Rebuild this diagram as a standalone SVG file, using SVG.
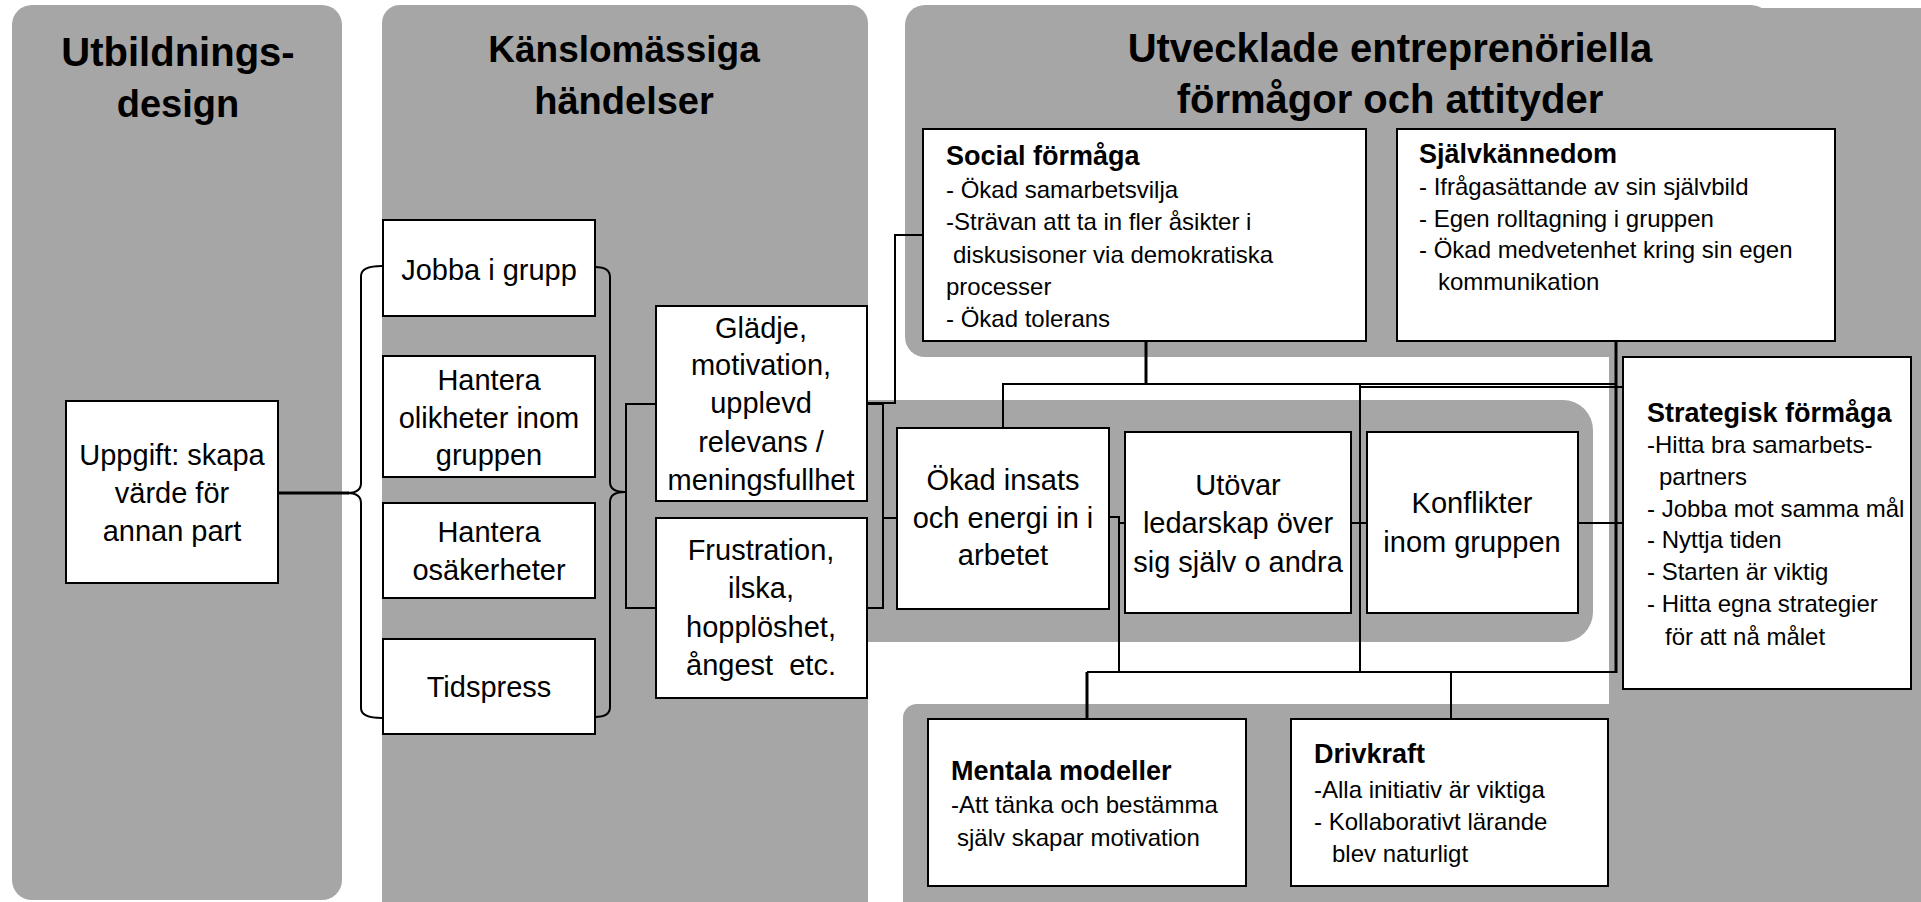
<svg xmlns="http://www.w3.org/2000/svg" width="1921" height="902" viewBox="0 0 1921 902">
<style>
.bg{fill:#a6a6a6}
.box{fill:#fff;stroke:#000;stroke-width:2}
.t{font-family:"Liberation Sans",Arial,sans-serif;font-size:29px;fill:#000;text-anchor:middle}
.h{font-family:"Liberation Sans",Arial,sans-serif;font-size:38px;font-weight:bold;fill:#000;text-anchor:middle}
.b{font-family:"Liberation Sans",Arial,sans-serif;font-size:24px;fill:#000}
.bh{font-family:"Liberation Sans",Arial,sans-serif;font-size:27px;font-weight:bold;fill:#000}
.ln{fill:none;stroke:#000;stroke-width:2}
.lt{fill:none;stroke:#000;stroke-width:3}
</style>
<rect width="1921" height="902" fill="#fff"/>
<g id="panels">
  <rect class="bg" x="12" y="5" width="330" height="895" rx="20"/>
  <rect class="bg" x="840" y="400" width="753" height="242" rx="30"/>
  <rect class="bg" x="382" y="5" width="486" height="920" rx="18"/>
  <rect class="bg" x="905" y="5" width="866" height="352" rx="20"/>
  <rect class="bg" x="1609" y="8" width="312" height="894"/>
  <rect class="bg" x="903" y="704" width="1040" height="240" rx="14"/>
</g>
<g id="headings">
  <text class="h" x="178" y="66" style="font-size:40px">Utbildnings-</text>
  <text class="h" x="178" y="117" style="font-size:38px">design</text>
  <text class="h" x="624" y="62" style="font-size:37px">Känslomässiga</text>
  <text class="h" x="624" y="114">händelser</text>
  <text class="h" x="1390" y="62" style="font-size:40px">Utvecklade entreprenöriella</text>
  <text class="h" x="1390" y="113" style="font-size:40px">förmågor och attityder</text>
</g>
<g id="connectors">
  <path class="lt" d="M278,493 H349"/>
  <path class="ln" d="M382,266 Q361,266 361,276 V483 Q361,493 347,493 Q361,493 361,503 V708 Q361,718 382,718"/>
  <path class="ln" d="M595,267 Q610,267 610,277 V482 Q610,492 625,492 Q610,492 610,502 V707 Q610,717 595,717"/>
  <path class="ln" d="M656,404 H626 V608 H656"/>
  <path class="ln" d="M867,404 H883 V608 H867 M883,518 H897"/>
  <path class="ln" d="M867,403 H895 V235 H923"/>
  <path class="lt" d="M1146,341 V384"/>
  <path class="ln" d="M1003,428 V384 H1616"/>
  <path class="ln" d="M1360,387 H1623"/>
  <path class="lt" d="M1616,341 V673"/>
  <path class="ln" d="M1087,672 H1616"/>
  <path class="lt" d="M1087,719 V672"/>
  <path class="ln" d="M1451,672 V719"/>
  <path class="ln" d="M1109,517 H1119 V672 M1119,523 H1125"/>
  <path class="ln" d="M1360,384 V672 M1351,523 H1367"/>
  <path class="ln" d="M1578,523 H1623"/>
</g>
<g id="uppgift">
  <rect class="box" x="66" y="401" width="212" height="182"/>
  <text class="t" x="172" y="465">Uppgift: skapa</text>
  <text class="t" x="172" y="503">värde för</text>
  <text class="t" x="172" y="541">annan part</text>
</g>
<g id="jobba">
  <rect class="box" x="383" y="220" width="212" height="96"/>
  <text class="t" x="489" y="280">Jobba i grupp</text>
</g>
<g id="olikheter">
  <rect class="box" x="383" y="356" width="212" height="121"/>
  <text class="t" x="489" y="390">Hantera</text>
  <text class="t" x="489" y="428">olikheter inom</text>
  <text class="t" x="489" y="465">gruppen</text>
</g>
<g id="osakerheter">
  <rect class="box" x="383" y="503" width="212" height="95"/>
  <text class="t" x="489" y="542">Hantera</text>
  <text class="t" x="489" y="580">osäkerheter</text>
</g>
<g id="tidspress">
  <rect class="box" x="383" y="639" width="212" height="95"/>
  <text class="t" x="489" y="697">Tidspress</text>
</g>
<g id="gladje">
  <rect class="box" x="656" y="306" width="211" height="195"/>
  <text class="t" x="761" y="338">Glädje,</text>
  <text class="t" x="761" y="375">motivation,</text>
  <text class="t" x="761" y="413">upplevd</text>
  <text class="t" x="761" y="452">relevans /</text>
  <text class="t" x="761" y="490">meningsfullhet</text>
</g>
<g id="frustration">
  <rect class="box" x="656" y="518" width="211" height="180"/>
  <text class="t" x="761" y="560">Frustration,</text>
  <text class="t" x="761" y="598">ilska,</text>
  <text class="t" x="761" y="637">hopplöshet,</text>
  <text class="t" x="761" y="675" xml:space="preserve">ångest  etc.</text>
</g>
<g id="social">
  <rect class="box" x="923" y="129" width="443" height="212"/>
  <text class="bh" x="946" y="165">Social förmåga</text>
  <text class="b" x="946" y="198">- Ökad samarbetsvilja</text>
  <text class="b" x="946" y="230">-Strävan att ta in fler åsikter i</text>
  <text class="b" x="953" y="263">diskusisoner via demokratiska</text>
  <text class="b" x="946" y="295">processer</text>
  <text class="b" x="946" y="327">- Ökad tolerans</text>
</g>
<g id="sjalvkannedom">
  <rect class="box" x="1397" y="129" width="438" height="212"/>
  <text class="bh" x="1419" y="163">Självkännedom</text>
  <text class="b" x="1419" y="195">- Ifrågasättande av sin självbild</text>
  <text class="b" x="1419" y="227">- Egen rolltagning i gruppen</text>
  <text class="b" x="1419" y="258">- Ökad medvetenhet kring sin egen</text>
  <text class="b" x="1438" y="290">kommunikation</text>
</g>
<g id="strategisk">
  <rect class="box" x="1623" y="357" width="288" height="332"/>
  <text class="bh" x="1647" y="422">Strategisk förmåga</text>
  <text class="b" x="1647" y="453">-Hitta bra samarbets-</text>
  <text class="b" x="1659" y="485">partners</text>
  <text class="b" x="1647" y="517">- Jobba mot samma mål</text>
  <text class="b" x="1647" y="548">- Nyttja tiden</text>
  <text class="b" x="1647" y="580">- Starten är viktig</text>
  <text class="b" x="1647" y="612">- Hitta egna strategier</text>
  <text class="b" x="1665" y="645">för att nå målet</text>
</g>
<g id="okad">
  <rect class="box" x="897" y="428" width="212" height="181"/>
  <text class="t" x="1003" y="490">Ökad insats</text>
  <text class="t" x="1003" y="528">och energi in i</text>
  <text class="t" x="1003" y="565">arbetet</text>
</g>
<g id="utovar">
  <rect class="box" x="1125" y="432" width="226" height="181"/>
  <text class="t" x="1238" y="495">Utövar</text>
  <text class="t" x="1238" y="533">ledarskap över</text>
  <text class="t" x="1238" y="572">sig själv o andra</text>
</g>
<g id="konflikter">
  <rect class="box" x="1367" y="432" width="211" height="181"/>
  <text class="t" x="1472" y="513">Konflikter</text>
  <text class="t" x="1472" y="552">inom gruppen</text>
</g>
<g id="mentala">
  <rect class="box" x="928" y="719" width="318" height="167"/>
  <text class="bh" x="951" y="780">Mentala modeller</text>
  <text class="b" x="951" y="813">-Att tänka och bestämma</text>
  <text class="b" x="957" y="846">själv skapar motivation</text>
</g>
<g id="drivkraft">
  <rect class="box" x="1291" y="719" width="317" height="167"/>
  <text class="bh" x="1314" y="763">Drivkraft</text>
  <text class="b" x="1314" y="798">-Alla initiativ är viktiga</text>
  <text class="b" x="1314" y="830">- Kollaborativt lärande</text>
  <text class="b" x="1332" y="862">blev naturligt</text>
</g>
</svg>
